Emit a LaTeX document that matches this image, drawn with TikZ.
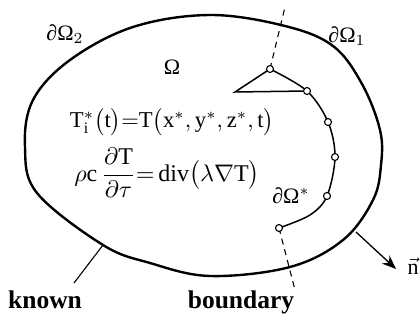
\documentclass[tikz,border=0pt]{standalone}
\usepackage{fontspec}
\setmainfont{Liberation Serif}
\usetikzlibrary{arrows.meta}
\begin{document}
\begin{tikzpicture}[x=1pt,y=-1pt,
  bnd/.style={line width=2.4pt},
  inr/.style={line width=1.5pt},
  dot/.style={circle,draw,fill=white,line width=1.1pt,inner sep=0pt,minimum size=7pt},
  dsh/.style={line width=1.1pt,dash pattern=on 6pt off 5pt},
  lbl/.style={inner sep=0pt,scale=2.2},
  bld/.style={inner sep=0pt,font=\bfseries,scale=2.55}]
\useasboundingbox (0,0) rectangle (420,320);
% outer boundary
\draw[bnd] plot[smooth cycle,tension=0.6] coordinates {
  (210,15) (285,26) (333,46) (362,84) (380,130) (381,165) (373,200) (343,240)
  (290,267) (210,276) (150,263) (103,245) (37,193) (25,147) (33,100)
  (70,60) (133,27)};
% points on inner curve
\coordinate (p1) at (270,69);
\coordinate (p2) at (307,91);
\coordinate (p3) at (328,122);
\coordinate (p4) at (335,157);
\coordinate (p5) at (327,196);
\coordinate (p6) at (279,228);
\coordinate (tl) at (235,92);
\coordinate (dt) at (285,7);
\coordinate (db) at (295,290);
% dashed lines
\draw[dsh] (p1) -- (dt);
\draw[dsh] (p6) -- (db);
% inner curve
\draw[inr] plot[smooth,tension=0.55] coordinates {(270,69) (307,91) (328,122) (335,157) (327,196) (310,215) (279,228)};
% triangle
\draw[inr] (p1) -- (tl) -- (p2);
% circles
\foreach \i in {1,...,6} \node[dot] (c\i) at (p\i) {};
% labels
\node[lbl] (om2) at (65,34) {∂Ω$_2$};
\node[lbl] (om1) at (347,36) {∂Ω$_1$};
\node[lbl] (om) at (172,67) {Ω};
\node[lbl] (oms) at (291,196) {∂Ω$^*$};
\node[lbl,scale=1.03] (eq1) at (172,122) {$\mathrm{T}_{\mathrm{i}}^{*}\bigl(\mathrm{t}\bigr){=}\mathrm{T}\bigl(\mathrm{x}^{*},\mathrm{y}^{*},\mathrm{z}^{*},\mathrm{t}\bigr)$};
\node[lbl,scale=1.09] (eq2) at (167,173) {$\rho\mathrm{c}\,\displaystyle\frac{\partial\mathrm{T}}{\partial\tau}{=}\,\mathrm{div}\bigl(\lambda\nabla\mathrm{T}\bigr)$};
% known boundary
\node[bld,anchor=base] (kn) at (45,308) {known};
\node[bld,anchor=base] (bd) at (241,308) {boundary};
\coordinate (kb) at (103,245);
\coordinate (kl) at (74,283);
\draw[line width=1.1pt] (kb) -- (kl);
% normal
\coordinate (na) at (356,232);
\coordinate (nt) at (396,269);
\draw[line width=1.3pt,-{Stealth[length=14pt,width=11pt]}] (na) -- (nt);
\node[lbl] (n) at (413,266) {$\vec{\mathrm{n}}$};
\end{tikzpicture}
\end{document}
